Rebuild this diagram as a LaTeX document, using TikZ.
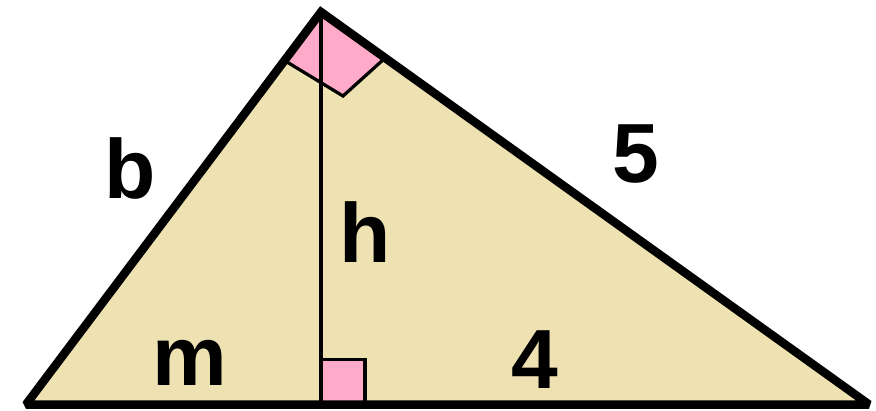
\documentclass[tikz,border=0pt]{standalone}
\usepackage{fontspec}
\setmainfont{Liberation Sans}
\definecolor{sand}{RGB}{238,226,178}
\definecolor{rosy}{RGB}{255,170,200}
\tikzset{
  side/.style={draw=black, line width=0.17cm, line join=miter, miter limit=1.5},
  thin/.style={draw=black, line width=0.065cm},
  anglemark/.style={fill=rosy},
  lbl/.style={font=\fontsize{47.8}{50}\selectfont\bfseries, anchor=base, inner sep=0pt}
}

\begin{document}
\begin{tikzpicture}[x=0.02cm, y=-0.02cm]
                \useasboundingbox (0,0) rectangle (876,410);
                % vertices and foot of the altitude
                \coordinate (A) at (26,404.5);
                \coordinate (B) at (869,404.5);
                \coordinate (C) at (321,12);
                \coordinate (F) at (321,404.5);
                % right angle at the top
                \coordinate (tl) at (287,62);
                \coordinate (tb) at (343,96);
                \coordinate (tr) at (384,59);
                % right angle at the foot
                \coordinate (fc) at (365,359.5);

                \fill[sand] (A) -- (C) -- (B) -- cycle;
                \fill[anglemark] (C) -- (tl) -- (tb) -- (tr) -- cycle;
                \fill[anglemark] (F) rectangle (fc);

                \draw[thin] (tl) -- (tb) -- (tr);
                \draw[thin] (F |- fc) -- (fc) -- (fc |- F);
                \draw[thin] (C) -- (F);
                \draw[side] (A) -- (C) -- (B) -- cycle;

                \node[lbl] (b) at (130,198) {b};
                \node[lbl] (five) at (636,182) {5};
                \node[lbl] (h) at (365,262) {h};
                \node[lbl] (m) at (190,385) {m};
                \node[lbl] (four) at (535,388) {4};
            \end{tikzpicture}
\end{document}
